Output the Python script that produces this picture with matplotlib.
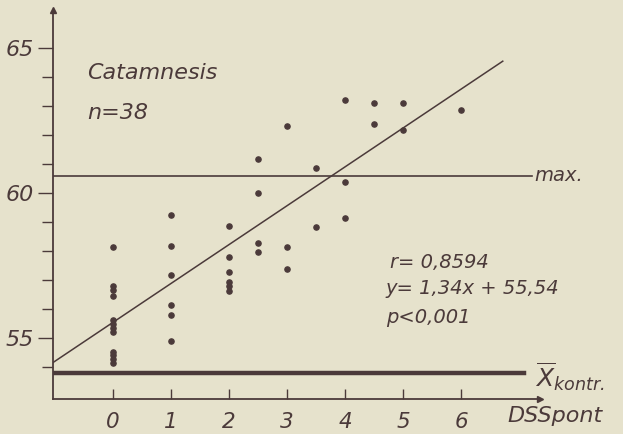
import matplotlib
matplotlib.use("Agg")
import matplotlib.pyplot as plt
import numpy as np

# DSS points (x) and catamnesis values (y)
dss = [0, 0, 0, 0, 0, 0, 0, 0, 0, 0, 0, 0,
       1, 1, 1, 1, 1, 1,
       2, 2, 2, 2, 2, 2,
       2.5, 2.5, 2.5, 2.5,
       3, 3, 3,
       3.5, 3.5,
       4, 4, 4,
       4.5, 4.5,
       5, 5,
       6]
catamnesis = [58.14, 56.79, 56.66, 56.45, 55.62, 55.48, 55.34, 55.21, 54.52, 54.41, 54.28, 54.14,
              59.24, 58.17, 57.17, 56.14, 55.79, 54.90,
              58.86, 57.79, 57.28, 56.93, 56.79, 56.62,
              61.17, 60.00, 58.28, 57.97,
              62.31, 58.14, 57.38,
              60.86, 58.83,
              63.21, 60.38, 59.14,
              63.10, 62.38,
              63.10, 62.17,
              62.86]

slope, intercept = 1.34, 55.54
max_level = 60.6
kontr_level = 53.8
xticks = [0, 1, 2, 3, 4, 5, 6]
ymajor = [55, 60, 65]

ink = "#4b3a3a"
paper = "#e6e2cc"
plt.rcParams["font.family"] = ["DejaVu Sans"]
plt.rcParams["font.style"] = "italic"
plt.rcParams["mathtext.fontset"] = "dejavusans"

fig = plt.figure(figsize=(6.23, 4.34), dpi=100, facecolor=paper)
ax = fig.add_axes([53 / 623, 35 / 434, 487 / 623, 389 / 434])
ax.set_facecolor(paper)
ax.set_xlim(-1.034, 7.362)
ax.set_ylim(52.897, 66.31)

for s in ["top", "right"]:
    ax.spines[s].set_visible(False)
for s in ["left", "bottom"]:
    ax.spines[s].set_color(ink)
    ax.spines[s].set_linewidth(1.3)

# arrow heads
ax.plot(1, 0, ">", color=ink, ms=5, transform=ax.transAxes, clip_on=False)
ax.plot(0, 1, "^", color=ink, ms=4, transform=ax.transAxes, clip_on=False)

ax.set_xticks(xticks)
ax.set_xticklabels([str(t) for t in xticks])
ax.set_yticks(ymajor)
ax.set_yticklabels([str(t) for t in ymajor])
ax.set_yticks(np.arange(54, 66), minor=True)
ax.tick_params(axis="x", direction="in", length=7, width=1, color=ink,
               labelcolor=ink, labelsize=15.5, pad=9)
ax.tick_params(axis="y", which="major", direction="out", length=11, width=1,
               color=ink, labelcolor=ink, labelsize=16, pad=3)
ax.tick_params(axis="y", which="minor", direction="out", length=8, width=1, color=ink)

# reference lines
ax.plot([-1.034, 7.22], [max_level, max_level], color=ink, lw=1.2)
ax.plot([-1.034, 7.08], [kontr_level, kontr_level], color=ink, lw=3.2)
xr = np.array([-1.034, 6.72])
ax.plot(xr, slope * xr + intercept, color=ink, lw=1.1)

ax.scatter(dss, catamnesis, s=14, color=ink, zorder=3)

ax.text(-0.45, 64.15, "Catamnesis", fontsize=16, color=ink, va="center")
ax.text(-0.45, 62.75, "n=38", fontsize=16, color=ink, va="center")
ax.text(4.78, 57.62, "r= 0,8594", fontsize=14, color=ink, va="center")
ax.text(4.7, 56.72, "y= 1,34x + 55,54", fontsize=14, color=ink, va="center")
ax.text(4.7, 55.72, "p<0,001", fontsize=14, color=ink, va="center")
ax.text(7.27, max_level, "max.", fontsize=14, color=ink, va="center", clip_on=False)
ax.text(7.28, kontr_level - 0.15, r"$\overline{X}_{kontr.}$", fontsize=18, color=ink,
        va="center", clip_on=False)
ax.text(6.8, 52.3, "DSSpont", fontsize=16, color=ink, va="center", clip_on=False)

fig.savefig("out.png", dpi=100, facecolor=paper)
